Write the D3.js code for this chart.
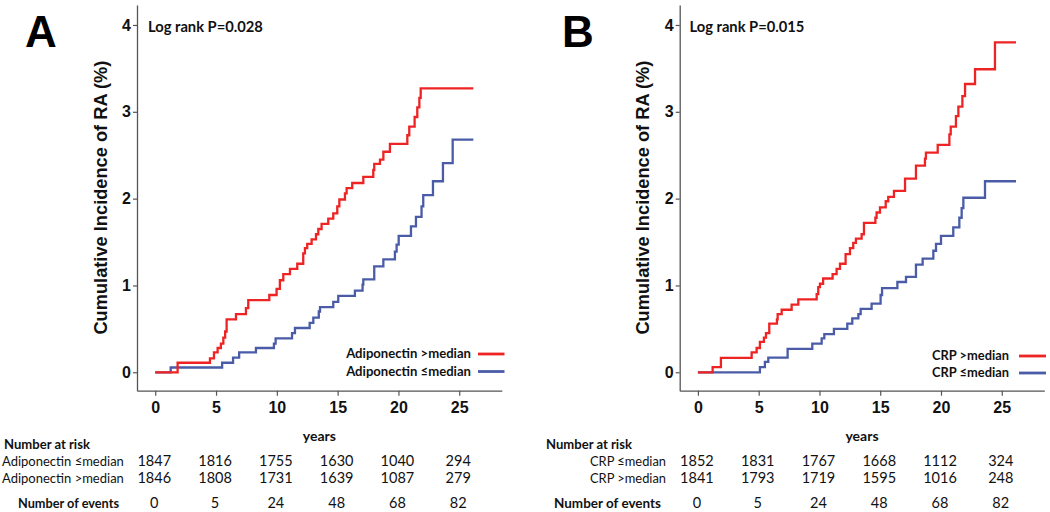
<!DOCTYPE html>
<html><head><meta charset="utf-8">
<script src="https://cdn.jsdelivr.net/npm/d3@7"></script>
<style>html,body{margin:0;padding:0;background:#fff;}</style>
</head><body>
<svg id="c" width="1050" height="512"></svg>
<script>
// ---- data ----
const years = [0, 5, 10, 15, 20, 25];
const yTicks = [0, 1, 2, 3, 4];

const aHighT = [0,1.84,4.5,4.83,5.13,5.4,5.6,5.75,5.87,6.64,7.46,7.65,9.38,9.98,10.25,10.53,11.08,11.68,12.17,12.31,12.5,12.86,13.22,13.41,13.68,14.23,14.64,14.97,15.14,15.6,15.74,16.2,17.11,17.93,18.01,18.48,18.76,19.3,20.73,20.89,21.33,21.55,21.72,21.83,26.16];
const aHighV = [0,0.11,0.16,0.23,0.28,0.33,0.40,0.47,0.61,0.67,0.74,0.83,0.89,0.96,1.06,1.13,1.19,1.25,1.37,1.43,1.48,1.53,1.59,1.65,1.71,1.77,1.83,1.91,1.99,2.06,2.12,2.18,2.25,2.33,2.40,2.45,2.54,2.63,2.73,2.83,2.94,3.05,3.16,3.27,3.27];
const aLowT = [0,1.27,5.5,6.4,6.9,8.28,9.76,9.9,11.25,11.49,12.7,13.0,13.45,13.55,14.64,15.05,16.42,17.05,17.11,18.01,18.76,19.71,19.85,20.02,21.03,21.44,21.9,22.04,22.84,23.66,24.46,26.16];
const aLowV = [0,0.055,0.11,0.17,0.23,0.28,0.33,0.39,0.45,0.51,0.57,0.63,0.70,0.75,0.81,0.88,0.94,1.01,1.07,1.22,1.30,1.39,1.47,1.57,1.68,1.79,1.91,2.04,2.20,2.41,2.68,2.68];
const bHighT = [0,1.21,1.89,4.42,4.83,5.1,5.43,5.6,5.87,6.5,6.56,6.89,7.71,8.26,9.77,9.9,10.04,10.3,11.08,11.41,11.69,12.15,12.51,12.78,13.0,13.47,13.66,14.6,14.7,14.98,15.45,15.66,16.13,17.04,17.94,18.68,18.76,19.73,20.69,20.8,21.23,21.43,21.76,21.98,22.8,24.44,26.17];
const bHighV = [0,0.06,0.165,0.23,0.28,0.35,0.40,0.45,0.56,0.61,0.67,0.72,0.78,0.84,0.90,0.98,1.02,1.08,1.13,1.19,1.25,1.36,1.43,1.49,1.54,1.59,1.72,1.78,1.84,1.90,1.97,2.02,2.09,2.23,2.38,2.46,2.53,2.62,2.74,2.83,2.95,3.06,3.18,3.32,3.49,3.80,3.80];
const bLowT = [0,5.1,5.51,5.79,7.38,9.41,10.18,10.4,11.19,12.29,12.7,13.2,13.39,14.29,15.03,15.15,16.41,17.12,17.94,18.49,19.37,19.59,20.0,21.01,21.51,21.7,21.84,23.62,26.17];
const bLowV = [0,0.06,0.12,0.17,0.27,0.33,0.39,0.44,0.50,0.56,0.62,0.67,0.73,0.79,0.89,0.97,1.04,1.10,1.24,1.31,1.40,1.48,1.57,1.67,1.78,1.89,2.01,2.20,2.20];

const aRiskLow = [1847, 1816, 1755, 1630, 1040, 294];
const aRiskHigh = [1846, 1808, 1731, 1639, 1087, 279];
const bRiskLow = [1852, 1831, 1767, 1668, 1112, 324];
const bRiskHigh = [1841, 1793, 1719, 1595, 1016, 248];
const events = [0, 5, 24, 48, 68, 82];

const panels = [
  {letter: "A", pval: "Log rank P=0.028", highLabel: "Adiponectin >median", lowLabel: "Adiponectin \u2264median",
   highT: aHighT, highV: aHighV, lowT: aLowT, lowV: aLowV, riskLow: aRiskLow, riskHigh: aRiskHigh},
  {letter: "B", pval: "Log rank P=0.015", highLabel: "CRP >median", lowLabel: "CRP \u2264median",
   highT: bHighT, highV: bHighV, lowT: bLowT, lowV: bLowV, riskLow: bRiskLow, riskHigh: bRiskHigh}
];

// ---- layout ----
const RED = "#ee2424", BLUE = "#4a5ca8", AXIS = "#555";
const ARIAL = "'Liberation Sans', Arial, sans-serif";
const CAL = "Lato, 'Open Sans', sans-serif";
const svg = d3.select("#c");

function fit(sel, w) {
  const fs = parseFloat(sel.attr("font-size"));
  const cur = sel.node().getComputedTextLength();
  if (cur > 0) sel.attr("font-size", fs * w / cur);
  return sel;
}

const layouts = [
  {x0: 137, x1: 501.8, letterX: 26, titleX: 100, pvalX: 148, legTextR: 471, legLine: [478, 504.5],
   legY: [354, 371.5], tblLabelX: 2, tblHeadX: 4, tblEvX: 18, wRow: 122, wHead: 86, wEv: 101, wLeg: 125, wP: 115},
  {x0: 679.7, x1: 1044.3, letterX: 563, titleX: 642, pvalX: 689.5, legTextR: 1009, legLine: [1019, 1046],
   legY: [356, 373], tblLabelX: 590, tblHeadX: 546, tblEvX: 554, wRow: 76, wHead: 86, wEv: 107, wLeg: 77, wP: 115}
];

panels.forEach((p, i) => {
  const L = layouts[i];
  const g = svg.append("g");
  const x = d3.scaleLinear().domain([-1.5, 28.5]).range([L.x0, L.x1]);
  const y = d3.scaleLinear().domain([-0.212, 4.23]).range([390.7, 5]);

  // axes
  const xAxis = d3.axisBottom(x).tickValues(years).tickSize(5).tickPadding(6).tickSizeOuter(0);
  const gx = g.append("g").attr("transform", "translate(0,390.7)").call(xAxis);
  gx.select(".domain").attr("stroke", AXIS).attr("stroke-width", 1.3);
  gx.selectAll(".tick line").attr("stroke", AXIS).attr("stroke-width", 1.2);
  gx.selectAll(".tick text").attr("font-family", ARIAL).attr("font-weight", "bold").attr("font-size", 16).attr("fill", "#111");

  const yAxis = d3.axisLeft(y).tickValues(yTicks).tickFormat(d3.format("d")).tickSize(4).tickPadding(2).tickSizeOuter(0);
  const gy = g.append("g").attr("transform", `translate(${L.x0},0)`).call(yAxis);
  gy.select(".domain").attr("stroke", AXIS).attr("stroke-width", 1.3);
  gy.selectAll(".tick line").attr("stroke", AXIS).attr("stroke-width", 1.2);
  gy.selectAll(".tick text").attr("font-family", ARIAL).attr("font-weight", "bold").attr("font-size", 16).attr("fill", "#111");

  // y title
  const yt = g.append("text").attr("transform", `translate(${L.titleX + 7},${y(2.0) - 1}) rotate(-90)`)
    .attr("text-anchor", "middle").attr("font-family", ARIAL).attr("font-weight", "bold")
    .attr("font-size", 20).attr("fill", "#111").text("Cumulative Incidence of RA (%)");
  fit(yt, 274);

  // panel letter
  g.append("text").attr("x", L.letterX - 1).attr("y", 47).attr("font-family", ARIAL).attr("font-weight", "bold")
    .attr("font-size", 44).attr("fill", "#000").text(p.letter);

  // p value
  fit(g.append("text").attr("x", L.pvalX).attr("y", 32).attr("font-family", CAL).attr("font-weight", "bold")
    .attr("font-size", 15).attr("fill", "#111").text(p.pval), L.wP);

  // curves
  const line = d3.line().x(d => x(d[0])).y(d => y(d[1])).curve(d3.curveStepAfter);
  [[p.lowT, p.lowV, BLUE], [p.highT, p.highV, RED]].forEach(([T, V, col]) => {
    g.append("path").datum(d3.zip(T, V)).attr("d", line).attr("fill", "none")
      .attr("stroke", col).attr("stroke-width", 2.3).attr("stroke-linejoin", "miter");
  });

  // legend
  [[p.highLabel, RED, L.legY[0]], [p.lowLabel, BLUE, L.legY[1]]].forEach(([lab, col, ly]) => {
    fit(g.append("text").attr("x", L.legTextR).attr("y", ly + 4).attr("text-anchor", "end")
      .attr("font-family", CAL).attr("font-weight", "bold").attr("font-size", 14).attr("fill", "#111").text(lab), L.wLeg);
    g.append("line").attr("x1", L.legLine[0]).attr("x2", L.legLine[1]).attr("y1", ly).attr("y2", ly)
      .attr("stroke", col).attr("stroke-width", 2.8);
  });

  // years label
  g.append("text").attr("x", (L.x0 + L.x1) / 2).attr("y", 441).attr("text-anchor", "middle")
    .attr("font-family", CAL).attr("font-weight", "bold").attr("font-size", 14).attr("fill", "#111").text("years");

  // risk table
  fit(g.append("text").attr("x", L.tblHeadX).attr("y", 448.5).attr("font-family", CAL).attr("font-weight", "bold")
    .attr("font-size", 14).attr("fill", "#111").text("Number at risk"), L.wHead);
  [[p.lowLabel, p.riskLow, 466], [p.highLabel, p.riskHigh, 482.5]].forEach(([lab, vals, by]) => {
    fit(g.append("text").attr("x", L.tblLabelX).attr("y", by).attr("font-family", CAL)
      .attr("font-size", 14).attr("fill", "#111").text(lab), L.wRow);
    g.selectAll(null).data(vals).join("text").attr("x", (d, j) => x(years[j]) - 1).attr("y", by)
      .attr("text-anchor", "middle").attr("font-family", CAL).attr("font-size", 14.5).attr("fill", "#111").text(d => d);
  });
  fit(g.append("text").attr("x", L.tblEvX).attr("y", 507.5).attr("font-family", CAL).attr("font-weight", "bold")
    .attr("font-size", 14).attr("fill", "#111").text("Number of events"), L.wEv);
  g.selectAll(null).data(events).join("text").attr("x", (d, j) => x(years[j]) - 1).attr("y", 507.5)
    .attr("text-anchor", "middle").attr("font-family", CAL).attr("font-size", 14.5).attr("fill", "#111").text(d => d);
});
</script>
</body></html>
